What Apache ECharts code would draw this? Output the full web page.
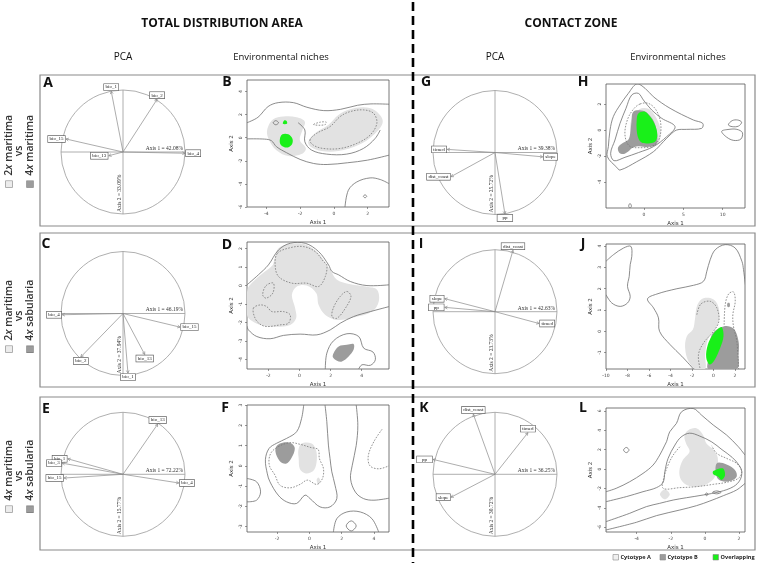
<!DOCTYPE html>
<html>
<head>
<meta charset="utf-8">
<script src="https://cdn.jsdelivr.net/npm/echarts@6/dist/echarts.min.js"></script>
<style>
html, body { margin: 0; padding: 0; background: #fff; }
#main { width: 758px; height: 563px; }
</style>
</head>
<body>
<div id="main"></div>
<script>
// ---- PCA correlation circles (A C E | G I K) ----
var pcaAxis1 = [42.08, 46.19, 72.22, 39.38, 42.63, 36.25];
var pcaAxis2 = [33.09, 37.94, 15.77, 25.72, 23.73, 30.72];

var varsA = ['bio_1', 'bio_2', 'bio_15', 'bio_13', 'bio_4'];
var loadXA = [-0.19, 0.55, -0.92, -0.23, 1.0];
var loadYA = [0.98, 0.85, 0.21, -0.06, -0.02];

var varsC = ['bio_4', 'bio_15', 'bio_2', 'bio_13', 'bio_1'];
var loadXC = [-0.98, 0.92, -0.68, 0.35, 0.08];
var loadYC = [-0.02, -0.22, -0.70, -0.66, -0.96];

var varsE = ['bio_13', 'bio_1', 'bio_3', 'bio_15', 'bio_4'];
var loadXE = [0.56, -0.89, -0.98, -0.95, 0.90];
var loadYE = [0.81, 0.25, 0.18, -0.06, -0.14];

var varsG = ['timed', 'slope', 'dist_coast', 'pp'];
var loadXG = [-0.77, 0.77, -0.71, 0.16];
var loadYG = [0.05, -0.07, -0.39, -0.99];

var varsI = ['slope', 'pp', 'timed', 'dist_coast'];
var loadXI = [-0.81, -0.81, 0.71, 0.29];
var loadYI = [0.21, 0.07, -0.19, 0.99];

var varsK = ['dist_coast', 'timed', 'pp', 'slope'];
var loadXK = [-0.35, 0.53, -1.0, -0.71];
var loadYK = [0.97, 0.67, 0.24, -0.37];

// ---- niche plots: tick labels ----
var bTicksX = [-4, -2, 0, 2],  bTicksY = [-6, -4, -2, 0, 2, 4];
var dTicksX = [-2, 0, 2, 4],   dTicksY = [-4, -3, -2, -1, 0, 1, 2];
var fTicksX = [-2, 0, 2, 4],   fTicksY = [-3, -2, -1, 0, 1, 2, 3];
var hTicksX = [0, 5, 10],      hTicksY = [-4, -2, 0, 2];
var jTicksX = [-10, -8, -6, -4, -2, 0, 2], jTicksY = [-1, 0, 1, 2, 3, 4];
var lTicksX = [-4, -2, 0, 2],  lTicksY = [-6, -4, -2, 0, 2, 4, 6];

// ---- niche plots: contours and density areas (Axis 1, Axis 2) ----
// B
var bLightL = [[-3.9,0.96],[-3.6,1.59],[-3.0,1.83],[-2.21,1.77],[-1.72,1.39],[-1.86,0.67],[-2.02,-0.2],[-1.66,-0.93],[-1.92,-1.42],[-2.71,-1.59],[-3.37,-1.13],[-3.76,-0.43],[-3.96,0.32]];
var bLightR = [[-1.52,-0.35],[-1.12,0.38],[-0.33,1.1],[0.27,1.97],[0.96,2.46],[1.75,2.64],[2.45,2.35],[2.9,1.39],[2.35,0.23],[1.46,-0.64],[0.27,-1.16],[-0.73,-1.16],[-1.38,-0.78]];
var bGreen = [[-3.2,-0.1],[-3.05,0.3],[-2.7,0.3],[-2.45,-0.1],[-2.5,-0.6],[-2.8,-0.85],[-3.15,-0.6]];
var bGreen2 = [[-3.02,1.2],[-2.95,1.5],[-2.8,1.45],[-2.78,1.2]];
var bOuterTop = [[-5.15,1.3],[-4.5,1.77],[-3.9,2.7],[-3.3,3.04],[-2.4,3.04],[-1.6,2.64],[-0.6,2.35],[0.4,2.46],[1.4,2.81],[2.2,2.93],[3.3,2.9]];
var bOuterBot = [[3.3,-1.5],[2.0,-1.94],[0.8,-2.17],[-0.4,-2.32],[-1.2,-2.23],[-2.0,-1.88],[-2.8,-1.3],[-3.4,-0.78],[-3.7,-0.26],[-4.1,-0.12],[-5.15,-0.1]];
var bInner = [[-2.12,1.3],[-1.72,0.67],[-1.72,-0.35],[-1.32,-1.07],[-0.43,-1.42],[0.76,-1.42],[1.75,-0.93],[2.45,-0.06],[2.75,0.67]];
var bDot = [[-1.42,-0.2],[-1.02,0.38],[-0.23,0.96],[0.37,1.83],[0.96,2.26],[1.75,2.41],[2.35,2.12],[2.55,1.25],[2.15,0.23],[1.36,-0.49],[0.37,-0.93],[-0.63,-0.93],[-1.22,-0.64]];
var bDotSmall = [[-1.2,1.15],[-0.8,1.35],[-0.45,1.35],[-0.5,1.15],[-0.9,1.08]];
var bLowRight = [[0.66,-6.0],[0.86,-4.55],[1.36,-3.83],[2.15,-3.48],[2.75,-3.62],[3.3,-4.0]];
var bLoop1 = [[1.75,-5.07],[1.85,-4.95],[1.95,-5.07],[1.85,-5.2]];
var bLoop2 = [[-3.6,1.3],[-3.44,1.48],[-3.28,1.3],[-3.44,1.12]];
// D
var dLight = [[-3.38,-1.59],[-3.35,-0.23],[-2.86,0.31],[-2.22,0.76],[-1.72,1.12],[-1.63,1.39],[-1.35,2.02],[-0.6,2.25],[0.37,2.23],[1.18,1.78],[1.76,1.12],[1.98,0.85],[2.41,0.31],[3.27,0.07],[4.34,-0.07],[4.99,-0.23],[5.1,-0.86],[4.67,-1.41],[3.48,-1.73],[2.41,-1.86],[1.66,-1.59],[1.23,-1.05],[1.08,-0.41],[0.47,0],[-0.17,-0.05],[-0.49,-0.5],[-0.28,-1.23],[-0.22,-1.77],[-0.6,-2.13],[-1.46,-2.23],[-2.43,-2.16],[-3.08,-1.91]];
var dDark = [[2.19,-3.66],[2.52,-3.3],[3.05,-3.21],[3.48,-3.17],[3.48,-3.48],[3.16,-3.84],[2.73,-4.11],[2.41,-4.07],[2.15,-3.89]];
var dOuterTop = [[-3.38,0.04],[-2.65,0.58],[-2.0,1.12],[-1.35,1.93],[-0.6,2.29],[0.37,2.29],[1.23,1.84],[1.87,1.12],[2.09,0.76],[2.52,0.58],[3.27,0.22],[4.34,0],[5.76,0.04]];
var dOuterBot = [[5.76,-1.14],[4.56,-1.41],[3.48,-1.68],[2.62,-2.04],[1.98,-2.4],[1.12,-2.67],[0.04,-2.63],[-1.03,-2.7],[-1.89,-2.88],[-2.75,-2.76],[-3.29,-2.4],[-3.38,-2.2]];
var dLowRight = [[1.66,-4.52],[1.76,-3.66],[2.19,-2.99],[3.05,-2.61],[3.81,-2.76],[4.13,-3.39],[4.73,-3.6],[4.88,-4.02],[4.56,-4.32],[4.02,-4.29],[3.81,-4.52]];
var dDotTop = [[-1.42,1.75],[-0.6,2.05],[0.26,2.11],[1.01,1.84],[1.55,1.3],[1.76,1.12],[1.66,0.49],[1.23,-0.05],[0.47,0.13],[-0.49,0.13],[-1.35,0.49],[-1.57,1.12]];
var dDotSmall = [[-2.15,0],[-1.68,0.13],[-1.72,-0.41],[-2.15,-0.68],[-2.37,-0.5]];
var dDotLeft = [[-2.97,-1.23],[-2.54,-1.05],[-2.11,-1.14],[-1.78,-1.41],[-1.03,-1.41],[-0.6,-1.59],[-0.71,-2.04],[-1.25,-2.13],[-2.11,-2.22],[-2.54,-2.09],[-2.86,-1.77]];
var dDotRight = [[3.05,-0.32],[3.31,-0.59],[2.95,-1.23],[2.41,-1.77],[2.09,-1.68],[2.19,-1.19],[2.62,-0.59]];
// F
var fLight = [[-0.68,0.78],[-0.48,1.1],[0.14,1.1],[0.41,0.78],[0.46,0.28],[0.29,-0.21],[-0.21,-0.38],[-0.58,-0.17],[-0.66,0.36]];
var fLightKnob = [[0.45,-0.7],[0.56,-0.58],[0.68,-0.75],[0.56,-0.92]];
var fDark = [[-2.1,0.7],[-2.0,1.0],[-1.6,1.15],[-1.1,1.1],[-0.9,0.85],[-1.1,0.4],[-1.45,0.1],[-1.85,0.25]];
var fOuter = [[-0.35,3.0],[-0.48,2.34],[-0.79,1.68],[-1.41,1.35],[-2.03,1.11],[-2.5,0.85],[-2.72,0.3],[-2.6,-0.4],[-2.44,-0.79],[-1.93,-1.45],[-1.41,-1.78],[-0.79,-1.86],[-0.27,-1.45],[0.04,-1.62],[0.66,-2.03],[1.28,-2.03],[1.7,-1.62],[1.59,-0.96],[1.39,-0.3],[1.28,0.36],[1.18,1.02],[1.08,2.18],[0.97,3.0]];
var fLeft = [[-3.86,-0.63],[-3.27,-0.79],[-3.02,-1.29],[-3.27,-1.7],[-3.86,-1.78]];
var fRight = [[2.9,3.0],[3.0,2.0],[2.9,1.0],[2.65,0.0],[2.55,-0.65],[2.85,-1.3],[3.35,-1.62],[4.0,-1.7],[4.93,-1.6]];
var fBottom = [[1.49,-3.27],[1.7,-2.61],[2.32,-2.28],[3.15,-2.28],[3.87,-2.61],[4.29,-3.27]];
var fLoop = [[2.28,-2.97],[2.59,-2.72],[2.9,-2.97],[2.59,-3.22]];
var fDot = [[-1.93,0.94],[-1.2,1.14],[-0.58,1.06],[0.1,0.9],[0.55,0.8],[0.62,0.36],[0.87,-0.13],[0.81,-0.63],[0.46,-0.92],[-0.12,-0.71],[-0.58,-0.92],[-1.2,-1.09],[-1.82,-0.96],[-2.13,-0.46],[-2.48,0.03],[-2.4,0.6]];
var fDotRight = [[4.5,1.8],[4.0,1.2],[3.65,0.5],[3.75,0.0],[4.3,-0.15],[4.93,0.0]];
// H
var hLight = [[-0.6,1.6],[0.5,1.65],[1.4,1.1],[2.05,0.2],[2.1,-0.5],[1.75,-1.05],[0.9,-1.25],[-0.4,-1.25],[-1.4,-1.1],[-1.75,-0.3],[-1.6,0.8]];
var hDark = [[-1.36,1.41],[-0.3,1.5],[0.4,1.3],[1.3,0.6],[1.7,-0.5],[1.5,-1.15],[0.3,-1.3],[-0.8,-1.25],[-1.4,-1.35],[-2.0,-1.65],[-2.6,-1.85],[-3.15,-1.75],[-3.3,-1.35],[-2.7,-1.0],[-2.0,-0.75],[-1.75,-0.25],[-1.6,0.6]];
var hGreen = [[-0.72,1.28],[0.13,1.41],[0.76,1.03],[1.4,0.38],[1.69,-0.38],[1.4,-0.9],[0.55,-1.03],[-0.3,-0.97],[-0.72,-0.64],[-0.93,0],[-0.93,0.77]];
var hOuter = [[-0.93,3.54],[-1.99,2.82],[-3.05,1.92],[-3.9,1.03],[-4.32,0],[-4.53,-1.28],[-4.66,-2.05],[-3.47,-2.87],[-3.05,-3.08],[-0.93,-2.44],[1.19,-1.67],[2.46,-0.9],[3.31,-0.38],[4.15,0],[5.42,0.05],[7.33,0.13],[7.46,0.51],[6.27,0.77],[3.31,1.67],[1.19,2.56],[0.13,3.21]];
var hInner = [[-1.57,2.69],[-0.72,2.82],[-0.08,2.31],[0.97,1.54],[2.25,0.9],[3.94,0.26],[2.88,-0.51],[1.19,-1.28],[-0.72,-1.74],[-2.42,-2.1],[-3.81,-2.36],[-4.24,-1.79],[-3.69,-0.77],[-3.05,0.51],[-2.29,1.67]];
var hDot = [[-0.51,2.0],[0.55,2.05],[1.53,1.54],[2.12,0.51],[1.95,-0.64],[1.1,-1.23],[-0.51,-1.36],[-1.86,-1.23],[-2.42,-0.38],[-2.12,0.77],[-1.36,1.59]];
var hLoop1 = [[10.72,0.4],[11.2,0.72],[11.9,0.77],[12.4,0.6],[12.0,0.3],[11.2,0.26]];
var hLoop2 = [[9.87,-0.1],[10.5,-0.55],[11.4,-0.8],[12.3,-0.7],[12.5,-0.2],[11.8,0.05],[10.8,0.05]];
var hLoop3 = [[-1.95,-5.85],[-1.78,-5.65],[-1.6,-5.85],[-1.78,-6.0]];
// J
var jLight = [[-2.64,-0.78],[-2.48,-0.23],[-1.92,0.08],[-1.71,0.63],[-1.55,1.17],[-1.09,1.52],[-0.31,1.56],[0.31,1.33],[0.56,0.78],[0.31,0.23],[-0.47,-0.31],[-0.78,-1.1],[-0.78,-1.77],[-1.71,-1.77],[-2.33,-1.41]];
var jDark = [[-0.16,-0.16],[0.93,0.23],[1.86,0.13],[2.33,-0.47],[2.33,-1.1],[2.17,-1.77],[-0.47,-1.77],[-0.37,-1.1]];
var jGreen = [[0.78,0.19],[0.93,-0.23],[0.62,-0.78],[0.06,-1.38],[-0.37,-1.56],[-0.68,-1.22],[-0.53,-0.63],[-0.06,-0.16],[0.47,0.13]];
var jMark = [[1.3,1.32],[1.5,1.32],[1.5,1.15],[1.3,1.15]];
var jLeft = [[-10,3.29],[-9.3,3.6],[-8.37,3.91],[-7.69,3.99],[-7.6,3.52],[-7.75,3.13],[-7.84,2.58],[-8.0,2.11],[-7.75,1.64],[-8.0,1.33],[-8.68,1.17],[-9.46,1.33],[-10,1.72]];
var jOuter = [[-1.86,-1.77],[-2.95,-1.17],[-4.03,-0.63],[-5.02,0],[-5.12,0.63],[-5.58,1.1],[-6.14,1.52],[-5.27,1.75],[-3.41,2.0],[-1.86,2.16],[-0.93,2.35],[-0.62,2.82],[-0.31,3.36],[0.16,3.83],[1.09,4.07],[2.02,3.91],[2.64,3.29],[2.79,2.9],[3.04,1.88]];
var jDotL = [[-1.55,0.78],[-1.18,1.28],[-0.31,1.41],[0.31,1.1],[0.5,0.47],[0,0],[-0.93,-0.55],[-1.4,-1.1],[-1.24,-1.77]];
var jDotR = [[0.99,0.31],[1.09,1.25],[1.4,1.75],[1.86,1.85],[2.02,1.41],[1.8,0.78],[1.86,0.23],[2.17,-0.47],[2.33,-1.77]];
// L
var lLight = [[-0.98,4.0],[-0.5,4.2],[-0.1,3.5],[0.1,2.6],[0.5,2.0],[0.75,1.2],[0.7,-0.3],[0.4,-1.2],[-0.3,-1.8],[-1.0,-1.7],[-1.4,-1.1],[-1.5,-0.2],[-1.3,0.9],[-0.9,1.8],[-1.1,2.6],[-1.2,3.4]];
var lLightSmall = [[-2.64,-2.61],[-2.35,-2.1],[-2.06,-2.61],[-2.35,-3.13]];
var lDark = [[0.69,0.58],[1.27,0.48],[1.76,-0.1],[1.86,-0.79],[1.47,-1.24],[0.98,-1.24],[0.69,-0.79]];
var lGreen = [[0.49,-0.21],[1.04,0.07],[1.18,-0.62],[0.98,-1.13],[0.78,-0.79],[0.49,-0.55]];
var lOuter = [[-5.8,-2.34],[-5.2,-1.99],[-4.41,-1.31],[-3.63,-0.45],[-3.04,0.41],[-2.65,1.44],[-2.35,2.47],[-2.25,2.82],[-2.06,3.85],[-1.67,4.71],[-1.37,5.91],[-0.69,6.25],[-0.2,5.57],[0.49,4.54],[1.27,3.51],[1.96,2.3],[2.35,1.44]];
var lOuterLow = [[2.35,-1.48],[1.86,-2.16],[1.08,-2.75],[0.29,-3.3],[-0.49,-3.78],[-1.47,-4.23],[-2.84,-4.81],[-4.02,-5.5],[-5.8,-6.29]];
var lInner = [[-5.8,-3.37],[-4.61,-2.85],[-3.63,-2.34],[-2.84,-1.92],[-2.45,-1.37],[-2.35,-0.27],[-2.16,1.1],[-1.76,2.47],[-1.4,3.3],[-0.9,3.7],[-0.3,3.4],[0.4,2.8],[1.0,2.0],[1.6,1.2],[2.0,0.4],[2.16,-0.27],[2.06,-1.13],[1.67,-1.82],[0.88,-2.34],[-0.1,-2.68],[-1.08,-2.96],[-1.86,-3.2],[-2.65,-3.54],[-3.43,-3.88],[-4.41,-4.57],[-5.8,-5.43]];
var lDot = [[-1.47,2.3],[-1.86,1.44],[-2.16,0.41],[-2.39,-0.79],[-2.45,-1.99],[-1.47,-1.92],[-0.49,-1.82],[0.49,-1.58],[1.27,-1.37],[1.96,-0.96],[2.16,-0.27],[1.86,0.58],[1.27,1.1],[0.69,1.62],[0.4,2.4]];
var lLoop1 = [[-4.77,1.96],[-4.61,2.23],[-4.45,1.96],[-4.61,1.69]];
var lLoop2 = [[0.02,-2.61],[0.1,-2.47],[0.18,-2.61],[0.1,-2.75]];
var lLoop3 = [[0.44,-2.41],[0.69,-2.26],[0.94,-2.41],[0.69,-2.56]];

// ---- layout ----
var R = 62;
var pcaPanels = [
  { c: [123, 152],   v: varsA, x: loadXA, y: loadYA, k: 0 },
  { c: [123, 313.5], v: varsC, x: loadXC, y: loadYC, k: 1 },
  { c: [123, 474.3], v: varsE, x: loadXE, y: loadYE, k: 2 },
  { c: [495, 152.5], v: varsG, x: loadXG, y: loadYG, k: 3 },
  { c: [495, 311.7], v: varsI, x: loadXI, y: loadYI, k: 4 },
  { c: [495, 474.3], v: varsK, x: loadXK, y: loadYK, k: 5 }
];
var nichePanels = [
  { box: [247, 80, 142, 127], xr: [-5.15, 3.27], yr: [-6, 5], tx: bTicksX, ty: bTicksY,
    layers: [['light', bLightL], ['light', bLightR], ['green', bGreen], ['green', bGreen2],
             ['solid', bOuterTop], ['solid', bOuterBot], ['solid', bInner], ['dotC', bDot], ['dotC', bDotSmall],
             ['solid', bLowRight], ['solidC', bLoop1], ['solidC', bLoop2]] },
  { box: [247, 242, 142, 127], xr: [-3.38, 5.76], yr: [-4.52, 2.36], tx: dTicksX, ty: dTicksY,
    layers: [['light', dLight], ['dark', dDark], ['solid', dOuterTop], ['solid', dOuterBot], ['solid', dLowRight],
             ['dotC', dDotTop], ['dotC', dDotSmall], ['dotC', dDotLeft], ['dotC', dDotRight]] },
  { box: [247, 405, 142, 127], xr: [-3.86, 4.93], yr: [-3.27, 3.0], tx: fTicksX, ty: fTicksY,
    layers: [['light', fLight], ['light', fLightKnob], ['dark', fDark], ['solid', fOuter], ['solid', fLeft],
             ['solid', fRight], ['solid', fBottom], ['solidC', fLoop], ['dotC', fDot], ['dot', fDotRight]] },
  { box: [606, 84, 139, 124], xr: [-4.83, 12.83], yr: [-6, 3.54], tx: hTicksX, ty: hTicksY,
    layers: [['light', hLight], ['dark', hDark], ['green', hGreen], ['solidC', hOuter], ['solidC', hInner],
             ['dotC', hDot], ['solidC', hLoop1], ['solidC', hLoop2], ['solidC', hLoop3]] },
  { box: [606, 244, 139, 125], xr: [-10, 2.93], yr: [-1.77, 4.1], tx: jTicksX, ty: jTicksY,
    layers: [['light', jLight], ['dark', jDark], ['green', jGreen], ['dark', jMark], ['solid', jLeft],
             ['solid', jOuter], ['dot', jDotL], ['dot', jDotR]] },
  { box: [606, 408, 139, 124], xr: [-5.8, 2.35], yr: [-6.5, 6.3], tx: lTicksX, ty: lTicksY,
    layers: [['light', lLight], ['light', lLightSmall], ['dark', lDark], ['green', lGreen], ['solid', lOuter],
             ['solid', lOuterLow], ['solid', lInner], ['dot', lDot], ['solidC', lLoop1], ['solidC', lLoop2], ['solidC', lLoop3]] }
];

var shapeStyle = {
  light:  { closed: true,  style: { fill: '#e2e2e2', stroke: 'none' } },
  dark:   { closed: true,  style: { fill: '#9c9c9c', stroke: 'none' } },
  green:  { closed: true,  style: { fill: '#19f019', stroke: 'none' } },
  solid:  { closed: false, style: { fill: 'none', stroke: '#6f6f6f', lineWidth: 0.8 } },
  solidC: { closed: true,  style: { fill: 'none', stroke: '#6f6f6f', lineWidth: 0.8 } },
  dot:    { closed: false, style: { fill: 'none', stroke: '#777', lineWidth: 0.8, lineDash: [1.6, 1.4] } },
  dotC:   { closed: true,  style: { fill: 'none', stroke: '#777', lineWidth: 0.8, lineDash: [1.6, 1.4] } }
};

function shapeSeries(g, kind, pts) {
  var st = shapeStyle[kind];
  return {
    type: 'custom', xAxisIndex: g, yAxisIndex: g, data: pts, silent: true,
    renderItem: function (params, api) {
      if (params.dataIndex !== 0) return null;
      var cs = params.coordSys;
      var xy = pts.map(function (p) { return api.coord(p); });
      return {
        type: 'group',
        clipPath: { type: 'rect', shape: { x: cs.x, y: cs.y, width: cs.width, height: cs.height } },
        children: [{ type: st.closed ? 'polygon' : 'polyline', shape: { points: xy, smooth: 0.35 }, style: st.style }]
      };
    }
  };
}

function circleSeries(g, p) {
  return {
    type: 'custom', xAxisIndex: g, yAxisIndex: g, data: [[0, 0]], silent: true,
    renderItem: function (params, api) {
      var c = api.coord([0, 0]), r = api.size([1, 1])[0];
      var ln = { stroke: '#9a9a9a', lineWidth: 0.8 };
      var tf = { fontSize: 5.5, fontFamily: 'Liberation Serif', fill: '#333' };
      return { type: 'group', children: [
        { type: 'circle', shape: { cx: c[0], cy: c[1], r: r }, style: { fill: 'none', stroke: '#9a9a9a', lineWidth: 0.8 } },
        { type: 'line', shape: { x1: c[0] - r, y1: c[1], x2: c[0] + r, y2: c[1] }, style: ln },
        { type: 'line', shape: { x1: c[0], y1: c[1] - r, x2: c[0], y2: c[1] + r }, style: ln },
        { type: 'text', x: c[0] + r - 2, y: c[1] - 0.5,
          style: Object.assign({ text: 'Axis 1 = ' + pcaAxis1[p.k].toFixed(2) + '%', align: 'right', verticalAlign: 'bottom' }, tf) },
        { type: 'text', x: c[0] - 0.5, y: c[1] + r - 2, rotation: Math.PI / 2,
          style: Object.assign({ text: 'Axis 2 = ' + pcaAxis2[p.k].toFixed(2) + '%', align: 'left', verticalAlign: 'bottom' }, tf) }
      ] };
    }
  };
}

function arrowSeries(g, p) {
  var data = p.x.map(function (v, i) { return [v, p.y[i]]; });
  return {
    type: 'custom', xAxisIndex: g, yAxisIndex: g, data: data, silent: true, z: 3,
    renderItem: function (params, api) {
      var o = api.coord([0, 0]), t = api.coord([api.value(0), api.value(1)]);
      var dx = t[0] - o[0], dy = t[1] - o[1], a = Math.atan2(dy, dx), h = 3;
      var name = p.v[params.dataIndex];
      var pad = Math.max(1.5, (15 - name.length * 2.5) / 2);
      var lab;
      if (Math.abs(dx) > Math.abs(dy)) {
        lab = { x: t[0] + (dx > 0 ? 1 : -1), y: t[1], align: dx > 0 ? 'left' : 'right', va: 'middle' };
      } else {
        lab = { x: t[0], y: t[1] + (dy > 0 ? 1 : -1), align: 'center', va: dy > 0 ? 'top' : 'bottom' };
      }
      var st = { stroke: '#8a8a8a', lineWidth: 0.7, fill: 'none' };
      return { type: 'group', children: [
        { type: 'line', shape: { x1: o[0], y1: o[1], x2: t[0], y2: t[1] }, style: st },
        { type: 'polyline', shape: { points: [
            [t[0] - h * Math.cos(a - 0.5), t[1] - h * Math.sin(a - 0.5)], t,
            [t[0] - h * Math.cos(a + 0.5), t[1] - h * Math.sin(a + 0.5)]] }, style: st },
        { type: 'text', x: lab.x, y: lab.y, style: {
            text: name, fontSize: 5, fontFamily: 'Liberation Serif', fill: '#222',
            align: lab.align, verticalAlign: lab.va,
            backgroundColor: '#fff', borderColor: '#555', borderWidth: 0.6, padding: [0.6, pad] } }
      ] };
    }
  };
}

var grids = [], xAxes = [], yAxes = [], series = [];
pcaPanels.forEach(function (p, i) {
  grids.push({ left: p.c[0] - R, top: p.c[1] - R, width: 2 * R, height: 2 * R, show: false, containLabel: false, outerBoundsMode: 'none' });
  xAxes.push({ type: 'value', gridIndex: i, min: -1, max: 1, show: false });
  yAxes.push({ type: 'value', gridIndex: i, min: -1, max: 1, show: false });
  series.push(circleSeries(i, p), arrowSeries(i, p));
});

var tickFont = { fontSize: 4.5, color: '#444', fontFamily: 'DejaVu Sans' };
var nameFont = { fontSize: 5.5, color: '#333', fontFamily: 'DejaVu Sans' };
nichePanels.forEach(function (p, k) {
  var g = 6 + k;
  grids.push({ left: p.box[0], top: p.box[1], width: p.box[2], height: p.box[3], show: true,
               borderColor: '#555', borderWidth: 0.8, containLabel: false, outerBoundsMode: 'none' });
  xAxes.push({ type: 'value', gridIndex: g, min: p.xr[0], max: p.xr[1],
    name: 'Axis 1', nameLocation: 'middle', nameGap: 13, nameTextStyle: nameFont, nameMoveOverlap: false,
    axisLine: { show: false, onZero: false }, splitLine: { show: false },
    axisTick: { show: true, customValues: p.tx, length: 2, lineStyle: { color: '#555', width: 0.6 } },
    axisLabel: Object.assign({ customValues: p.tx, margin: 4 }, tickFont) });
  yAxes.push({ type: 'value', gridIndex: g, min: p.yr[0], max: p.yr[1],
    name: 'Axis 2', nameLocation: 'middle', nameGap: 12, nameTextStyle: nameFont, nameMoveOverlap: false,
    axisLine: { show: false, onZero: false }, splitLine: { show: false },
    axisTick: { show: true, customValues: p.ty, length: 2, lineStyle: { color: '#555', width: 0.6 } },
    axisLabel: Object.assign({ customValues: p.ty, margin: 4, rotate: 90 }, tickFont) });
  p.layers.forEach(function (L) { series.push(shapeSeries(g, L[0], L[1])); });
});

// ---- decorations ----
var sans = 'Open Sans';
function txt(x, y, s, size, weight, extra) {
  return Object.assign({ type: 'text', x: x, y: y, z: 100, style: {
    text: s, font: weight + ' ' + size + 'px "' + sans + '"', fill: '#111',
    align: 'center', verticalAlign: 'middle', textAlign: 'center', textVerticalAlign: 'middle' } }, extra || {});
}
var rich = {
  it: { fontStyle: 'italic', fontWeight: 600, fontSize: 10.5, fontFamily: sans, fill: '#333', color: '#333' },
  sqA: { width: 6, height: 6, backgroundColor: '#ececec', borderColor: '#8c8c8c', borderWidth: 0.7 },
  sqB: { width: 6, height: 6, backgroundColor: '#9c9c9c', borderColor: '#7c7c7c', borderWidth: 0.7 }
};
function rowLabel(y, a, b) {
  function col(x, s) {
    return { type: 'text', x: x, y: y, rotation: Math.PI / 2, z: 100, style: {
      text: s, rich: rich, fontSize: 10.5, fontWeight: 600, fontFamily: sans, fill: '#333',
      align: 'center', verticalAlign: 'middle', textAlign: 'center', textVerticalAlign: 'middle' } };
  }
  return [col(9, '{sqA|}  ' + a), col(19.5, 'vs'), col(30, '{sqB|}  ' + b)];
}
function rowBox(top, bottom) {
  return { type: 'rect', z: 1, shape: { x: 40, y: top, width: 715, height: bottom - top },
           style: { fill: 'none', stroke: '#8a8a8a', lineWidth: 1.2 } };
}
function legendItem(x, color, label) {
  return [
    { type: 'rect', z: 100, shape: { x: x, y: 554.5, width: 5.5, height: 5.5 }, style: { fill: color, stroke: '#888', lineWidth: 0.6 } },
    { type: 'text', z: 100, x: x + 7.5, y: 557.5, style: { text: label, font: 'bold 5.6px "' + sans + '"', fill: '#222',
      align: 'left', verticalAlign: 'middle', textAlign: 'left', textVerticalAlign: 'middle' } }
  ];
}

var graphics = [
  txt(222, 24, 'TOTAL DISTRIBUTION AREA', 12, 'bold'),
  txt(571, 24, 'CONTACT ZONE', 12, 'bold'),
  txt(123, 57, 'PCA', 10, 'normal'),
  txt(281, 57, 'Environmental niches', 9.5, 'normal'),
  txt(495, 57, 'PCA', 10, 'normal'),
  txt(678, 57, 'Environmental niches', 9.5, 'normal'),
  rowBox(75, 226), rowBox(233, 387), rowBox(397, 550),
  { type: 'line', z: 110, shape: { x1: 413, y1: 2, x2: 413, y2: 563 },
    style: { stroke: '#000', lineWidth: 2.6, lineDash: [9, 5] } },
  txt(48, 83, 'A', 14, 'bold'), txt(227, 82, 'B', 14, 'bold'),
  txt(426, 82, 'G', 14, 'bold'), txt(583, 82, 'H', 14, 'bold'),
  txt(46, 244, 'C', 14, 'bold'), txt(227, 245, 'D', 14, 'bold'),
  txt(421, 244, 'I', 14, 'bold'), txt(583, 244, 'J', 14, 'bold'),
  txt(46, 409, 'E', 14, 'bold'), txt(225, 408, 'F', 14, 'bold'),
  txt(424, 408, 'K', 14, 'bold'), txt(583, 408, 'L', 14, 'bold')
].concat(
  rowLabel(151, '2{it|x} maritima', '4{it|x} maritima'),
  rowLabel(316, '2{it|x} maritima', '4{it|x} sabularia'),
  rowLabel(476, '4{it|x} maritima', '4{it|x} sabularia'),
  legendItem(613, '#f0f0f0', 'Cytotype A'),
  legendItem(660, '#9c9c9c', 'Cytotype B'),
  legendItem(713, '#19f019', 'Overlapping')
);

var chart = echarts.init(document.getElementById('main'), null, { renderer: 'canvas' });
chart.setOption({
  animation: false,
  backgroundColor: '#fff',
  grid: grids,
  xAxis: xAxes,
  yAxis: yAxes,
  series: series,
  graphic: { elements: graphics }
});
</script>
</body>
</html>
